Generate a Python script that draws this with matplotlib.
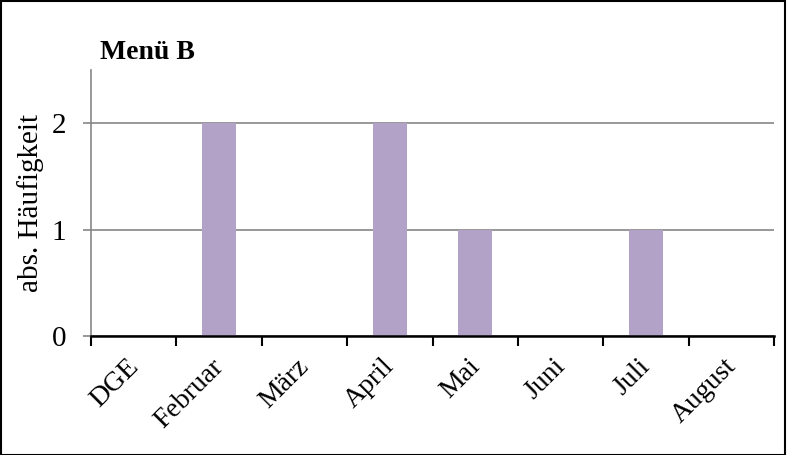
import matplotlib
matplotlib.use("Agg")
import matplotlib.pyplot as plt
from matplotlib.patches import Rectangle
from matplotlib.transforms import ScaledTranslation

categories = ["DGE", "Februar", "März", "April", "Mai", "Juni", "Juli", "August"]
values = [0, 2, 0, 2, 1, 0, 1, 0]
yticks = [0, 1, 2]

plt.rcParams["font.family"] = ["Liberation Serif", "DejaVu Serif"]

fig = plt.figure(figsize=(7.87, 4.55), dpi=100)
ax = fig.add_axes([91 / 787, 1 - 336 / 455, (774 - 91) / 787, (336 - 70) / 455])

x = list(range(len(categories)))
ax.bar(x, values, width=0.4, color="#B3A2C7", zorder=3)

ax.set_xlim(-0.5, len(categories) - 0.5)
ax.set_ylim(0, 2.5)
ax.set_yticks(yticks)
ax.set_yticklabels([str(t) for t in yticks], fontsize=21)
ax.yaxis.grid(True, color="#868686", linewidth=1.2, zorder=0)

# category boundaries carry the tick marks; labels sit at the centres
ax.set_xticks([i - 0.5 for i in range(len(categories) + 1)], minor=False)
ax.set_xticklabels([])
ax.tick_params(axis="x", which="major", direction="out", length=7, width=1.5, color="black")
ax.set_xticks(x, minor=True)
ax.set_xticklabels(categories, minor=True, rotation=45, ha="right", va="top",
                   rotation_mode="anchor", fontsize=20)
ax.tick_params(axis="x", which="minor", length=0, pad=13)
shift = ScaledTranslation(-8 / 100, 0, fig.dpi_scale_trans)
for lbl in ax.get_xticklabels(minor=True):
    lbl.set_transform(lbl.get_transform() + shift)

ax.tick_params(axis="y", direction="out", length=6, width=1.2, color="#868686", pad=12)

for s in ("top", "right"):
    ax.spines[s].set_visible(False)
ax.spines["left"].set_color("#868686")
ax.spines["left"].set_linewidth(1.2)
ax.spines["bottom"].set_color("black")
ax.spines["bottom"].set_linewidth(1.8)
ax.spines["bottom"].set_zorder(4)

ax.set_ylabel("abs. Häufigkeit", fontsize=21, labelpad=5)
ax.text(0.013, 1.02, "Menü B", transform=ax.transAxes, fontsize=20,
        fontweight="bold", ha="left", va="bottom")

fig.patches.append(Rectangle((0.001, 0.001), 0.997, 0.997, transform=fig.transFigure,
                             fill=False, edgecolor="black", linewidth=1.5))

fig.savefig("out.png", dpi=100)
